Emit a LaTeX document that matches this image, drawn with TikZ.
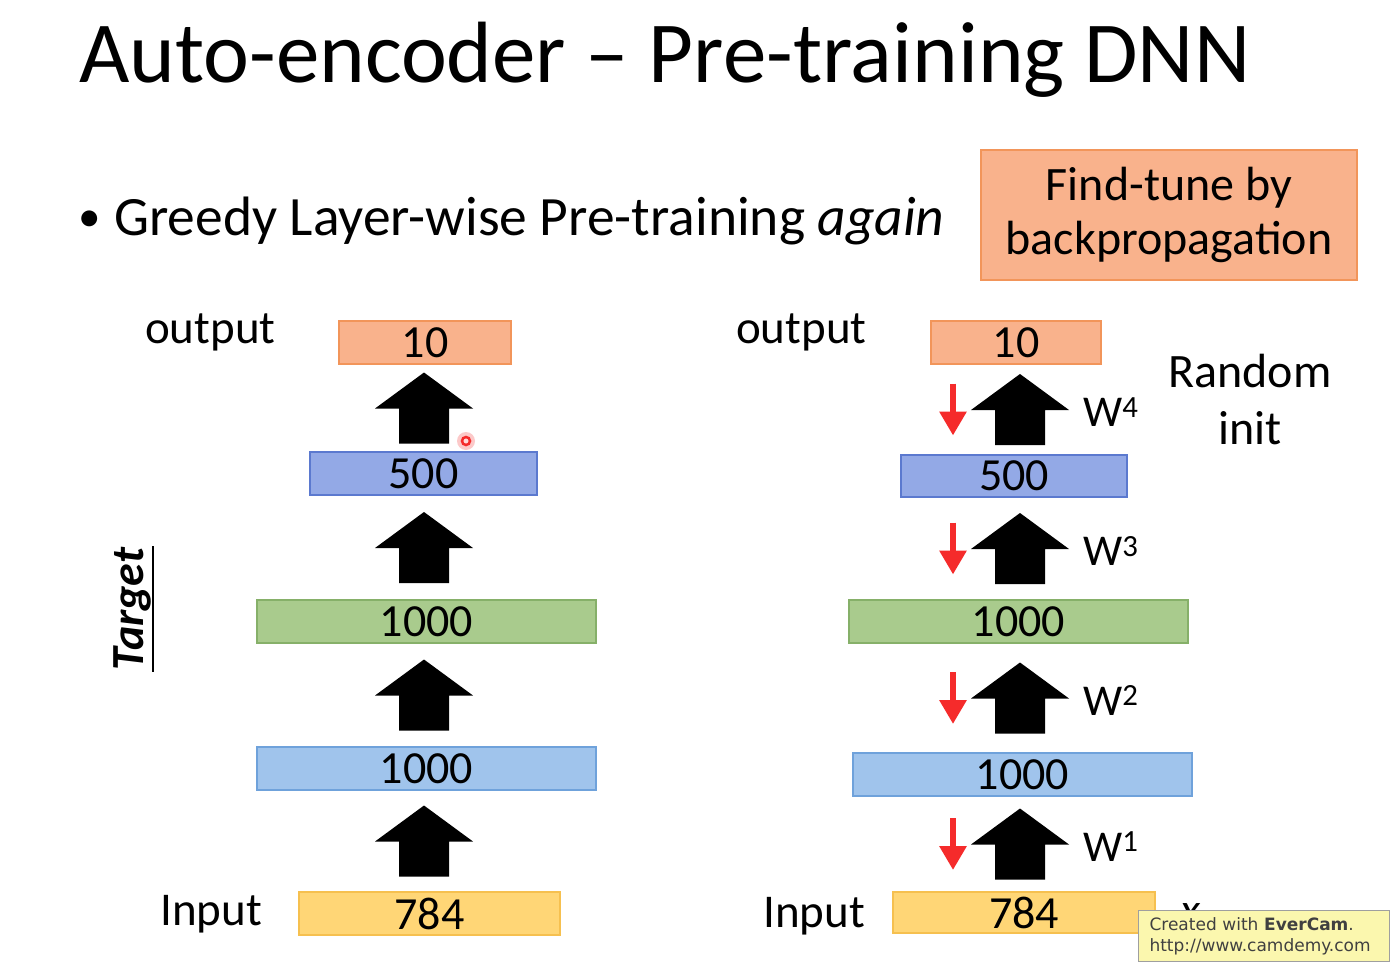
\documentclass[tikz,border=0pt]{standalone}
\usepackage{fontspec}
\setmainfont{Carlito}
\newfontfamily\wmfont{DejaVu Sans}
\usetikzlibrary{calc,arrows.meta}
\definecolor{orfill}{HTML}{F9B28C}
\definecolor{ordraw}{HTML}{F2955A}
\definecolor{pbfill}{HTML}{93A9E6}
\definecolor{pbdraw}{HTML}{5B79CF}
\definecolor{grfill}{HTML}{A9CB8D}
\definecolor{grdraw}{HTML}{86B069}
\definecolor{lbfill}{HTML}{A0C4EC}
\definecolor{lbdraw}{HTML}{6FA2DB}
\definecolor{yefill}{HTML}{FFD676}
\definecolor{yedraw}{HTML}{F6C04F}
\definecolor{arrred}{HTML}{F52B2B}
\definecolor{wmfill}{HTML}{FBF7AE}
\begin{document}
\begin{tikzpicture}[
  x=1pt, y=-1pt,
  layer/.style={draw, line width=1.2pt, minimum height=43pt, inner sep=0pt, font=\fontsize{46}{46}\selectfont},
  outl/.style={layer, fill=orfill, draw=ordraw},
  hidp/.style={layer, fill=pbfill, draw=pbdraw},
  codel/.style={layer, fill=grfill, draw=grdraw},
  hidb/.style={layer, fill=lbfill, draw=lbdraw},
  inl/.style={layer, fill=yefill, draw=yedraw},
  lab/.style={inner sep=0pt, anchor=base west, font=\fontsize{47}{47}\selectfont},
  wlab/.style={inner sep=0pt, anchor=base west, font=\fontsize{44}{44}\selectfont},
  redarr/.style={draw=arrred, line width=6pt, -{Triangle[width=26pt,length=24pt]}},
  pics/bigup/.style={code={\fill[black] (-25,35.5) -- (25,35.5) -- (25,0.5) -- (49,0.5) -- (0,-35.5) -- (-49,0.5) -- (-25,0.5) -- cycle;}}
]
\fill[white] (0,0) rectangle (1393,966);
\useasboundingbox (0,0) rectangle (1393,966);

% title and bullet
\node[inner sep=0pt, anchor=base west, font=\fontsize{87}{87}\selectfont] (title) at (79,83) {Auto-encoder – Pre-training DNN};
\node[inner sep=0pt, anchor=base west, font=\fontsize{45}{45}\selectfont] (dot) at (78,231) {•};
\node[inner sep=0pt, anchor=base west, font=\fontsize{55.5}{55.5}\selectfont] (greedy) at (114,235) {Greedy Layer-wise Pre-training \textit{again}};
\node[draw=ordraw, fill=orfill, line width=1.2pt, minimum width=376pt, minimum height=130pt, align=center, font=\fontsize{48}{54}\selectfont] (tune) at (1169,215) {Find-tune by\\backpropagation};

% left stack
\coordinate (colL) at (424,0);
\node[outl, minimum width=172pt] (l10) at (425,342.5) {10};
\node[hidp, minimum width=227pt] (l500) at (423.5,473.5) {500};
\node[codel, minimum width=339pt] (l1000g) at (426.5,621.5) {1000};
\node[hidb, minimum width=339pt] (l1000b) at (426.5,768.5) {1000};
\node[inl, minimum width=261pt] (l784) at (429.5,913.5) {784};
\node[lab] (lout) at (145,343) {output};
\node[lab] (lin) at (160,925) {Input};
\node[rotate=90, anchor=south, inner sep=1.5pt, font=\fontsize{46}{46}\selectfont\bfseries\itshape] (tgt) at (153,609) {Target};
\draw[line width=2pt] (tgt.south west) -- (tgt.south east);

\foreach \lo/\hi/\k in {l784/l1000b/1, l1000b/l1000g/2, l1000g/l500/3, l500/l10/4} {
  \coordinate (lc\k) at ($(\lo.north)!0.5!(\hi.south)$);
  \pic at (lc\k -| colL) {bigup};
}

% mouse pointer
\fill[arrred, opacity=0.25] (466,441) circle (9);
\draw[arrred, line width=2.5pt, fill=red!15] (466,441) circle (4);

% right stack
\coordinate (colR) at (1020,0);
\node[outl, minimum width=170pt] (r10) at (1016,342.5) {10};
\node[hidp, minimum width=226pt, minimum height=42pt] (r500) at (1014,476) {500};
\node[codel, minimum width=339pt] (r1000g) at (1018.5,621.5) {1000};
\node[hidb, minimum width=339pt] (r1000b) at (1022.5,774.5) {1000};
\node[inl, minimum width=262pt, minimum height=41pt] (r784) at (1024,912.5) {784};
\node[lab] (rout) at (736,343) {output};
\node[lab] (rin) at (763,927) {Input};
\node[inner sep=0pt, align=center, font=\fontsize{48}{57}\selectfont] (rand) at (1250,400) {Random\\init};

\foreach \lo/\hi/\k in {r784/r1000b/1, r1000b/r1000g/2, r1000g/r500/3, r500/r10/4} {
  \coordinate (rc\k) at ($(\lo.north)!0.5!(\hi.south)$);
  \coordinate (m\k) at (rc\k -| colR);
  \pic at (m\k) {bigup};
  \coordinate (rt\k) at ([xshift=-67pt, yshift=26pt]m\k);
  \coordinate (rb\k) at ([xshift=-67pt, yshift=-26pt]m\k);
  \draw[redarr] (rt\k) -- (rb\k);
  \node[wlab] (w\k) at ([xshift=63pt, yshift=-17pt]m\k) {W\textsuperscript{\k}};
}

% recorder watermark
\node[inner sep=0pt, anchor=base west, font=\fontsize{46}{46}\selectfont\itshape] (xin) at (1180,925) {x};
\node[draw=gray!75, fill=wmfill, line width=1pt, anchor=north west, minimum width=251pt, minimum height=51pt, text width=229pt, inner xsep=11pt, inner ysep=4pt, align=left, text=black!75, font=\wmfont\fontsize{17}{21}\selectfont] (wm) at (1138,910) {Created with \textbf{EverCam}.\\http://www.camdemy.com};
\end{tikzpicture}
\end{document}
